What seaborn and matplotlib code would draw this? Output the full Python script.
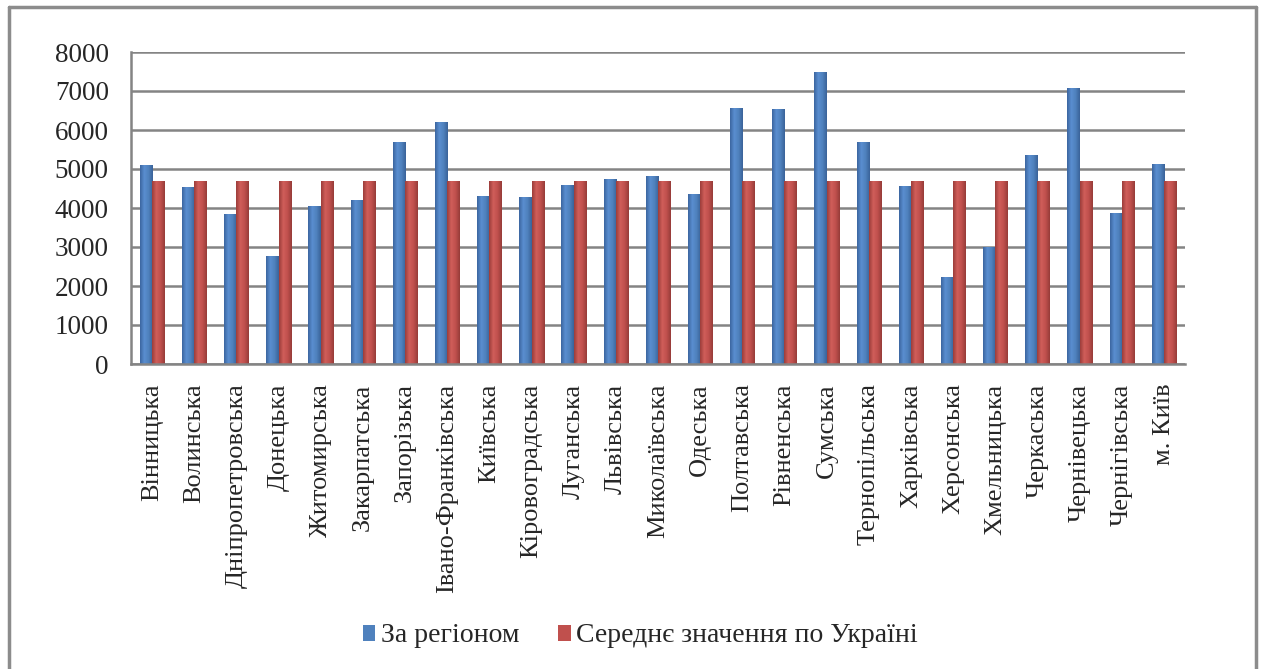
import matplotlib
matplotlib.use("Agg")
import matplotlib.pyplot as plt
from matplotlib.lines import Line2D
from matplotlib.patches import Patch
from matplotlib.colors import LinearSegmentedColormap
import numpy as np
import pandas as pd
import seaborn as sns

regions = ["Вінницька", "Волинська", "Дніпропетровська", "Донецька", "Житомирська",
           "Закарпатська", "Запорізька", "Івано-Франківська", "Київська", "Кіровоградська",
           "Луганська", "Львівська", "Миколаївська", "Одеська", "Полтавська",
           "Рівненська", "Сумська", "Тернопільська", "Харківська", "Херсонська",
           "Хмельницька", "Черкаська", "Чернівецька", "Чернігівська", "м. Київ"]
region_values = [5100, 4550, 3850, 2780, 4050, 4200, 5700, 6200, 4300, 4270,
                 4600, 4750, 4830, 4370, 6570, 6550, 7480, 5700, 4560, 2230,
                 3000, 5370, 7080, 3870, 5140]
ukraine_avg = [4700, 4700, 4700, 4700, 4700, 4700, 4700, 4700, 4700, 4700,
               4700, 4700, 4700, 4700, 4700, 4700, 4700, 4700, 4700, 4700,
               4700, 4700, 4700, 4700, 4700]
series_names = ["За регіоном", "Середнє значення по Україні"]
colors = ["#4F81BD", "#C0504D"]
y_ticks = [0, 1000, 2000, 3000, 4000, 5000, 6000, 7000, 8000]

# Таблиця у довгому форматі для seaborn
df = pd.DataFrame({
    "region": regions * 2,
    "value": region_values + ukraine_avg,
    "series": [series_names[0]] * len(regions) + [series_names[1]] * len(regions),
})

sns.set_style("white")
plt.rcParams["font.family"] = ["Liberation Serif", "DejaVu Serif"]

W, H = 1261, 669
fig = plt.figure(figsize=(W / 100, H / 100), dpi=100)
ax = fig.add_axes([131 / W, 1 - 364 / H, (1185 - 131) / W, (364 - 52) / H])

grid_col = "#848484"
sns.barplot(data=df, x="region", y="value", hue="series", palette=colors,
            width=0.58, gap=0, ax=ax, legend=False, saturation=1,
            edgecolor="none", linewidth=0)

# Ефект циліндра (горизонтальний градієнт), як в Excel
shades = [
    LinearSegmentedColormap.from_list("b", ["#3b66a0", "#5a8ed0", "#4F81BD", "#3a6399"]),
    LinearSegmentedColormap.from_list("r", ["#9c3d3a", "#d05e5a", "#C0504D", "#963c39"]),
]
grad = np.linspace(0, 1, 64).reshape(1, -1)
n = len(regions)
for i, patch in enumerate(list(ax.patches)):
    x0, y0 = patch.get_x(), patch.get_y()
    w, h = patch.get_width(), patch.get_height()
    im = ax.imshow(grad, cmap=shades[i // n], aspect="auto",
                   extent=(x0, x0 + w, y0, y0 + h), zorder=patch.get_zorder() + 0.1)
    im.set_clip_path(patch)
ax.set_ylim(0, 8000)
ax.set_xlim(-0.5, len(regions) - 0.5)

ax.set_yticks(y_ticks)
ax.set_yticklabels([str(v) for v in y_ticks], fontsize=19.5)
ax.yaxis.grid(True, color=grid_col, linewidth=1.8)
ax.set_axisbelow(True)

ax.set_xticks(np.arange(len(regions)))
ax.set_xticklabels(regions, rotation=90, fontsize=19, va="top", ha="center")
ax.set_xticks(np.arange(len(regions) + 1) - 0.5, minor=True)
ax.tick_params(axis="x", which="major", length=0, pad=14)
ax.tick_params(axis="x", which="minor", length=6, width=1.8, color=grid_col)
ax.tick_params(axis="y", length=6, width=1.8, color=grid_col, pad=10)

ax.set_xlabel("")
ax.set_ylabel("")
for side in ["top", "right"]:
    ax.spines[side].set_visible(False)
for side in ["left", "bottom"]:
    ax.spines[side].set_color(grid_col)
    ax.spines[side].set_linewidth(1.8)

# Легенда внизу
handles = [Patch(facecolor=c, edgecolor="none") for c in colors]
fig.legend(handles, series_names, loc="center", bbox_to_anchor=(0.5 + 10 / W, 1 - 636 / H),
           ncol=2, frameon=False, fontsize=20, handlelength=0.45, handleheight=0.5,
           handletextpad=0.2, columnspacing=1.4)

# Рамка навколо діаграми
frame_col = "#8c8c8c"
fig.add_artist(Line2D([9 / W, 9 / W], [0, 1 - 7 / H], color=frame_col, lw=2.5))
fig.add_artist(Line2D([1256 / W, 1256 / W], [0, 1 - 7 / H], color=frame_col, lw=2.5))
fig.add_artist(Line2D([9 / W, 1256 / W], [1 - 7 / H, 1 - 7 / H], color=frame_col, lw=2.5))

fig.savefig("out.png", dpi=100)
